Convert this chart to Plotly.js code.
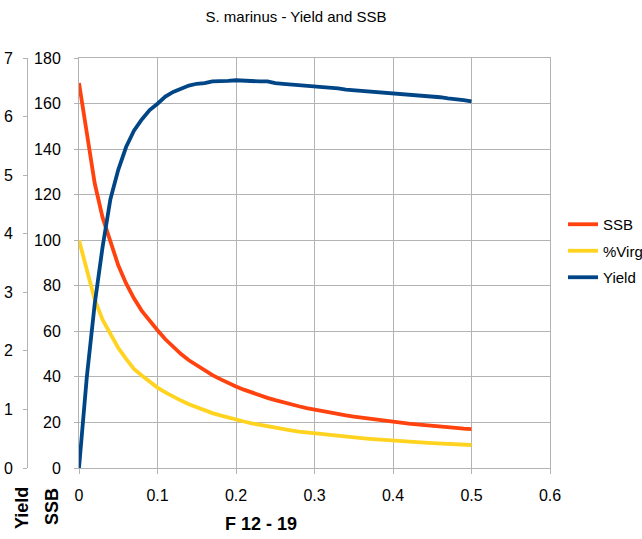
<!DOCTYPE html>
<html>
<head>
<meta charset="utf-8">
<script src="https://cdn.plot.ly/plotly-3.0.1.min.js"></script>
<style>html,body{margin:0;padding:0;background:#fff;}</style>
</head>
<body>
<div id="chart" style="width:642px;height:539px;"></div>
<script>
var F = [0,0.01,0.02,0.03,0.04,0.05,0.06,0.07,0.08,0.09,0.10,0.11,0.12,0.13,0.14,0.15,0.16,0.17,0.18,0.19,0.20,
         0.21,0.22,0.23,0.24,0.25,0.26,0.27,0.28,0.29,0.30,0.31,0.32,0.33,0.34,0.35,0.36,0.37,0.38,0.39,0.40,
         0.41,0.42,0.43,0.44,0.45,0.46,0.47,0.48,0.49,0.50];
var ssb = [169,146,125,110,99,89,81,74.5,69,64.5,60.5,56.5,53,50,47.3,45,42.8,40.8,39,37.3,35.8,
           34.4,33.1,31.9,30.8,29.8,28.8,27.9,27.1,26.3,25.6,24.9,24.3,23.7,23.1,22.6,22.1,21.6,21.2,20.7,20.3,
           19.9,19.5,19.2,18.8,18.5,18.2,17.9,17.6,17.3,17.1];
var virg = [100,86.4,74.0,65.1,58.6,52.7,47.9,43.5,40.6,37.7,35.3,33.2,31.3,29.6,28.0,26.6,25.3,24.1,23.1,22.1,21.2,
            20.4,19.6,18.9,18.2,17.6,17.0,16.5,16.0,15.6,15.1,14.7,14.4,14.0,13.7,13.4,13.1,12.8,12.5,12.2,12.0,
            11.8,11.5,11.4,11.1,10.9,10.8,10.6,10.4,10.2,10.1];
var yieldV = [0,1.56,2.80,3.77,4.59,5.09,5.48,5.76,5.95,6.11,6.22,6.34,6.42,6.47,6.53,6.56,6.57,6.60,6.60,6.61,6.62,
              6.61,6.61,6.60,6.60,6.57,6.56,6.55,6.54,6.53,6.52,6.51,6.49,6.48,6.46,6.45,6.44,6.43,6.42,6.41,6.40,
              6.39,6.37,6.36,6.35,6.34,6.33,6.31,6.30,6.28,6.26];
var seriesNames = ['SSB','%Virg','Yield'];
var xTicks = [0,0.1,0.2,0.3,0.4,0.5,0.6];
var xTickText = ['0','0.1','0.2','0.3','0.4','0.5','0.6'];

var W = 642, H = 539, ML = 0, MR = 92, MT = 58, MB = 71;
var PW = W - ML - MR, PH = H - MT - MB;
function px(x){ return (x - ML) / PW; }
function py(y){ return (H - MB - y) / PH; }

var font = 'Liberation Sans, Arial, sans-serif';
var grid = '#b3b3b3';

var traces = [
  {x:F, y:ssb, name:seriesNames[0], type:'scatter', mode:'lines', yaxis:'y', legendgroup:'a',
   line:{color:'#ff420e', width:3.8}},
  {x:F, y:virg, name:seriesNames[1], type:'scatter', mode:'lines', yaxis:'y', legendgroup:'b',
   line:{color:'#ffd320', width:3.8}},
  {x:F, y:yieldV, name:seriesNames[2], type:'scatter', mode:'lines', yaxis:'y2', legendgroup:'c',
   line:{color:'#004586', width:3.8}}
];

var layout = {
  width: W, height: H,
  margin: {l:ML, r:MR, t:MT, b:MB, autoexpand:false},
  paper_bgcolor:'#ffffff', plot_bgcolor:'#ffffff',
  font: {family: font, size: 16, color:'#000000'},
  title: {text:'S. marinus - Yield and SSB', font:{family:font, size:15, color:'#000'},
          x: 296/W, xanchor:'center', xref:'container', y: 1 - 17/H, yanchor:'middle', yref:'container'},
  showlegend: true,
  legend: {x: px(563), xanchor:'left', y: py(208), yanchor:'top', font:{family:font, size:15},
           bgcolor:'rgba(0,0,0,0)', borderwidth:0, tracegroupgap:4, traceorder:'grouped'},
  xaxis: {domain:[px(79), 1], range:[0,0.6], tickvals:xTicks, ticktext:xTickText,
          showgrid:true, gridcolor:grid, gridwidth:1, zeroline:false,
          showline:true, linecolor:grid, linewidth:1, mirror:true,
          ticks:'outside', ticklen:5, tickcolor:grid, tickfont:{size:16}, ticklabelstandoff:8},
  yaxis: {range:[0,180], dtick:20, anchor:'x', side:'left',
          showgrid:true, gridcolor:grid, gridwidth:1, zeroline:false,
          showline:true, linecolor:grid, linewidth:1, mirror:true,
          ticks:'outside', ticklen:4, tickcolor:grid, tickfont:{size:16}, ticklabelstandoff:10},
  yaxis2: {range:[0,7], dtick:1, overlaying:'y', anchor:'free', position:px(27), side:'left',
           showgrid:false, zeroline:false, showline:true, linecolor:grid, linewidth:1,
           ticks:'outside', ticklen:4, tickcolor:grid, tickfont:{size:16}, ticklabelstandoff:7},
  annotations: [
    {text:'<b>Yield</b>', xref:'paper', yref:'paper', x:px(22), y:py(508), textangle:-90,
     showarrow:false, font:{family:font, size:18}, xanchor:'center', yanchor:'middle'},
    {text:'<b>SSB</b>', xref:'paper', yref:'paper', x:px(52), y:py(507), textangle:-90,
     showarrow:false, font:{family:font, size:18}, xanchor:'center', yanchor:'middle'},
    {text:'<b>F 12 - 19</b>', xref:'paper', yref:'paper', x:px(261), y:py(524),
     showarrow:false, font:{family:font, size:18}, xanchor:'center', yanchor:'middle'}
  ]
};

Plotly.newPlot('chart', traces, layout, {displayModeBar:false, staticPlot:true});
</script>
</body>
</html>
